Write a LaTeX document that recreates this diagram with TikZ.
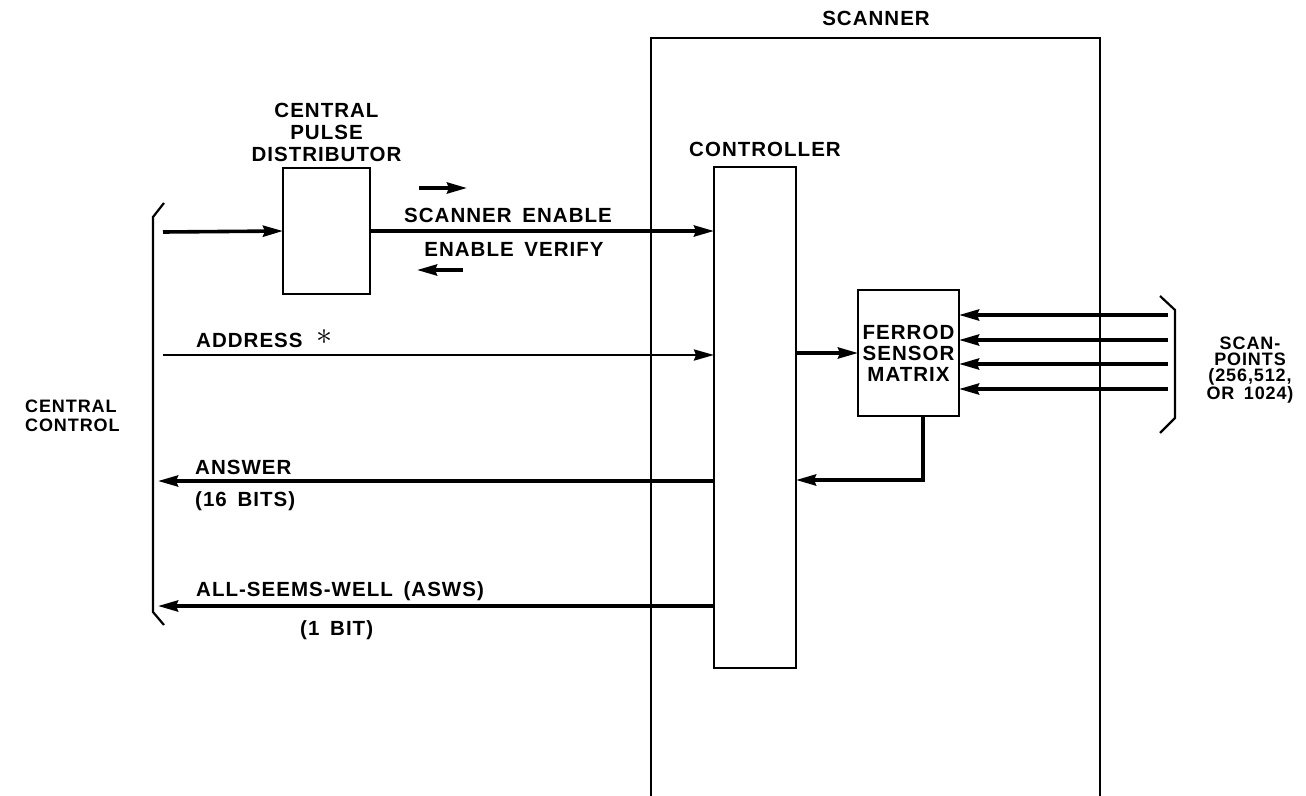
\documentclass[tikz,border=0pt]{standalone}
\usepackage{fontspec}
\setmainfont{Liberation Sans}[LetterSpace=5,WordSpace=1.6]
\usetikzlibrary{arrows.meta,positioning}
\tikzset{
  ar/.style={-{Stealth[length=20pt,width=11pt,inset=2pt]},line width=3.6pt},
  box/.style={draw,line width=2.4pt,inner sep=0pt,outer sep=0pt},
  lbl/.style={font=\fontsize{20.5}{21}\selectfont\bfseries,inner sep=0pt,align=center},
  brk/.style={line width=2.2pt}
}

\begin{document}
\begin{tikzpicture}[x=1pt,y=-1pt]
\useasboundingbox (0,0) rectangle (1306,795);
% scanner frame and controller
\node[box,line width=1.8pt,anchor=north west,minimum width=449pt,minimum height=780pt] (scn) at (651,38) {};
\node[lbl] (scnl) at (876,18) {SCANNER};
\node[box,line width=1.8pt,anchor=north west,minimum width=82pt,minimum height=501pt] (ctl) at (714,167) {};
\node[lbl] (ctll) at (765,149) {CONTROLLER};
\node[box,anchor=north west,minimum width=87pt,minimum height=126pt] (cpd) at (283,168) {};
\node[lbl,font=\fontsize{20.5}{22}\selectfont\bfseries,above=6pt of cpd] (cpdl) {CENTRAL\\PULSE\\DISTRIBUTOR};
\node[box,lbl,line width=2.8pt,anchor=north west,minimum width=101pt,minimum height=126pt] (fsm) at (858,290) {FERROD\\SENSOR\\MATRIX};
% brackets
\draw[brk] (164,203) -- (153,217) -- (153,612) -- (164,625);
\draw[brk] (1160,296) -- (1175,310) -- (1175,418) -- (1160,433);
\node[lbl,font=\fontsize{18}{19.5}\selectfont\bfseries,align=left,anchor=west] (ccl) at (25,416) {CENTRAL\\CONTROL};
\node[lbl,font=\fontsize{18}{16}\selectfont\bfseries] (spl) at (1250,370) {SCAN-\\POINTS\\(256,512,\\OR 1024)};
% signals
\coordinate (cin) at (163,232);
\draw[ar] (cin) -- (cpd.west);
\draw[ar] (cpd.east) -- (ctl.west |- cpd.east);
\node[lbl] (sen) at (508,215) {SCANNER ENABLE};
\node[lbl] (env) at (514,249) {ENABLE VERIFY};
\draw[ar] (419,188) -- (467,188);
\draw[ar] (463,270) -- (417,270);
\coordinate (adr) at (163,355);
\draw[ar,line width=2.6pt] (adr) -- (ctl.west |- adr);
\node[lbl,anchor=west] (adrl) at (196,340) {ADDRESS};
\node[scale=3.2] (ast) at (324,337) {$\ast$};
\draw[ar] (ctl.east |- fsm.west) -- (fsm.west);
\foreach \y [count=\i] in {315,340,364,389}{
  \coordinate (sp\i) at (1168,\y);
  \draw[ar] (sp\i) -- (fsm.east |- sp\i);}
\coordinate (fb) at (923,480);
\draw[ar] (fb |- fsm.south) -- (fb) -- (ctl.east |- fb);
\coordinate (ans) at (158,481);
\draw[ar] (ctl.west |- ans) -- (ans);
\node[lbl,anchor=west] (ansl) at (195,467) {ANSWER};
\node[lbl,anchor=west] (bits) at (195,501) {(16 BITS)};
\coordinate (asw) at (158,606);
\draw[ar] (ctl.west |- asw) -- (asw);
\node[lbl,anchor=west] (aswl) at (196,591) {ALL-SEEMS-WELL (ASWS)};
\node[lbl,anchor=west] (bit1) at (300,630) {(1 BIT)};
\end{tikzpicture}
\end{document}
